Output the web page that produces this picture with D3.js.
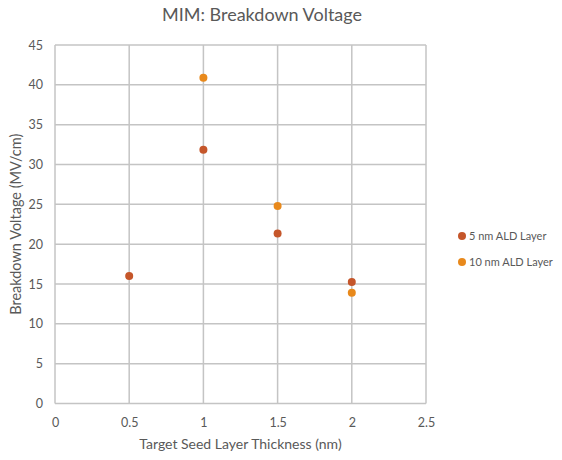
<!DOCTYPE html>
<html>
<head>
<meta charset="utf-8">
<script src="https://cdn.jsdelivr.net/npm/d3@7"></script>
<style>
  html, body { margin: 0; padding: 0; background: #fff; }
  svg text { font-family: Lato, "Open Sans", sans-serif; fill: #595959; }
</style>
</head>
<body>
<svg id="chart" width="562" height="460"></svg>
<script>
// Breakdown voltage vs. seed layer thickness for two ALD layer thicknesses
const xTicks = [0, 0.5, 1, 1.5, 2, 2.5];
const yTicks = [0, 5, 10, 15, 20, 25, 30, 35, 40, 45];

const thickness5nm = [0.5, 1, 1.5, 2];
const voltage5nm = [16.0, 31.85, 21.35, 15.25];

const thickness10nm = [1, 1.5, 2];
const voltage10nm = [40.9, 24.8, 13.9];

const seriesNames = ["5 nm ALD Layer", "10 nm ALD Layer"];
const seriesColors = ["#C5562A", "#E8891C"];

const series = [
  { name: seriesNames[0], color: seriesColors[0], pts: thickness5nm.map((x, i) => ({ x, y: voltage5nm[i] })) },
  { name: seriesNames[1], color: seriesColors[1], pts: thickness10nm.map((x, i) => ({ x, y: voltage10nm[i] })) }
];

const svg = d3.select("#chart");
const plotLeft = 55, plotRight = 426, plotTop = 45, plotBottom = 403.5;

const x = d3.scaleLinear().domain([0, 2.5]).range([plotLeft, plotRight]);
const y = d3.scaleLinear().domain([0, 45]).range([plotBottom, plotTop]);

// Grid lines
svg.append("g").selectAll("line").data(xTicks).join("line")
  .attr("x1", d => x(d)).attr("x2", d => x(d))
  .attr("y1", plotTop).attr("y2", plotBottom)
  .attr("stroke", "#c4c4c4").attr("stroke-width", 1.5);
svg.append("g").selectAll("line").data(yTicks).join("line")
  .attr("x1", plotLeft).attr("x2", plotRight)
  .attr("y1", d => y(d)).attr("y2", d => y(d))
  .attr("stroke", "#c4c4c4").attr("stroke-width", 1.5);

// Axes (tick labels only)
const xAxis = svg.append("g").attr("transform", `translate(0,${plotBottom})`)
  .call(d3.axisBottom(x).tickValues(xTicks).tickSize(0).tickPadding(15).tickFormat(d3.format("")));
const yAxis = svg.append("g").attr("transform", `translate(${plotLeft},0)`)
  .call(d3.axisLeft(y).tickValues(yTicks).tickSize(0).tickPadding(12).tickFormat(d3.format("")));
[xAxis, yAxis].forEach(a => {
  a.select(".domain").remove();
  a.selectAll("text").style("font-family", "Lato, 'Open Sans', sans-serif")
    .style("font-size", "12.5px").attr("fill", "#595959");
});

// Points
series.forEach(s => {
  svg.append("g").selectAll("circle").data(s.pts).join("circle")
    .attr("cx", d => x(d.x)).attr("cy", d => y(d.y)).attr("r", 4)
    .attr("fill", s.color);
});

// Title
svg.append("text").attr("x", 262).attr("y", 21).attr("text-anchor", "middle")
  .style("font-size", "18px").text("MIM: Breakdown Voltage");

// Axis titles
svg.append("text").attr("x", (plotLeft + plotRight) / 2).attr("y", 449).attr("text-anchor", "middle")
  .style("font-size", "14px").text("Target Seed Layer Thickness (nm)");
svg.append("text").attr("transform", `translate(21,${(plotTop + plotBottom) / 2}) rotate(-90)`)
  .attr("text-anchor", "middle").style("font-size", "14.5px").text("Breakdown Voltage (MV/cm)");

// Legend
const legend = svg.append("g").selectAll("g").data(series).join("g")
  .attr("transform", (d, i) => `translate(462,${236 + i * 26})`);
legend.append("circle").attr("r", 4).attr("fill", d => d.color);
legend.append("text").attr("x", 7).attr("y", 4).style("font-size", "11px").text(d => d.name);
</script>
</body>
</html>
